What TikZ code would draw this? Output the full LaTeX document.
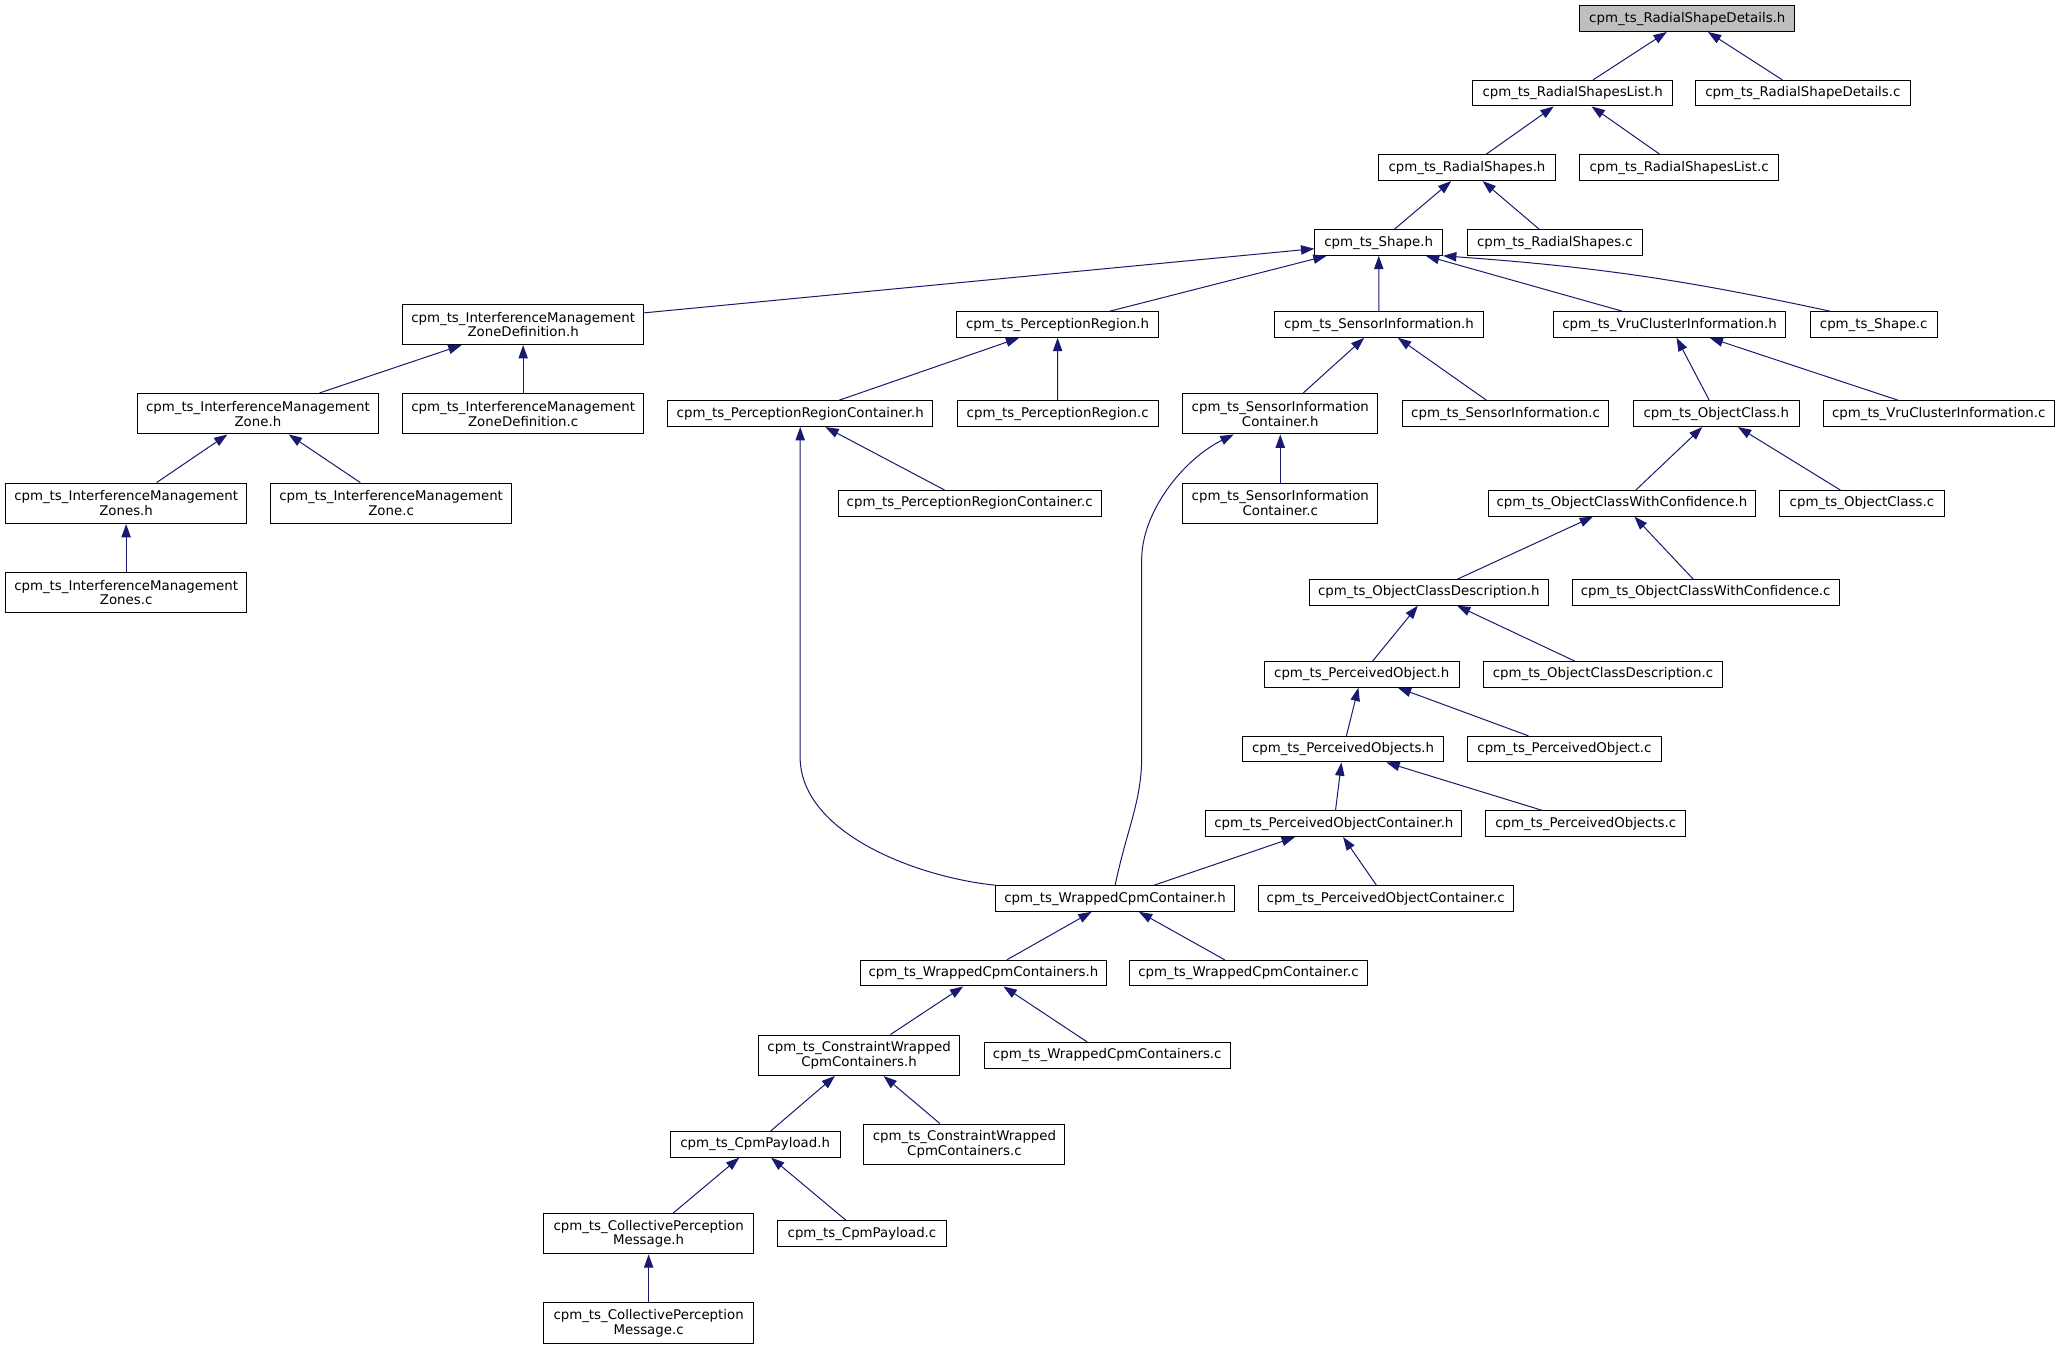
\documentclass[tikz,border=0pt]{standalone}
\usepackage{fontspec}
\setmainfont{DejaVu Sans}
\usetikzlibrary{arrows.meta}
\definecolor{edgeblue}{RGB}{25,25,112}
\definecolor{selgray}{RGB}{191,191,191}
\tikzset{
  file/.style={draw=black, fill=white, line width=0.75pt, inner sep=1pt,
    minimum height=19.5*0.98535pt, align=center, font=\fontsize{10}{11}\selectfont},
  tall/.style={minimum height=30.8*0.98535pt},
  wd/.style={minimum width=#1*0.98535pt},
  dep/.style={edgeblue, line width=0.75pt, -{Triangle[length=10pt, width=7pt]}},
}
\begin{document}
\begin{tikzpicture}[x=0.98535pt, y=-0.98535pt]
    \useasboundingbox[fill=white] (0,0) rectangle (1568,1027);
    % header files and their sources
    \node[file, wd=163.4, fill=selgray] (rsdh) at (1284.3,14.2) {cpm\_ts\_RadialShapeDetails.h};
    \node[file, wd=151.7] (rslh) at (1197,70.9) {cpm\_ts\_RadialShapesList.h};
    \node[file, wd=163.4] (rsdc) at (1372.3,70.9) {cpm\_ts\_RadialShapeDetails.c};
    \node[file, wd=134.3] (rsh) at (1116.6,127.7) {cpm\_ts\_RadialShapes.h};
    \node[file, wd=151] (rslc) at (1278,127.7) {cpm\_ts\_RadialShapesList.c};
    \node[file, wd=97.2] (shapeh) at (1049.4,184.6) {cpm\_ts\_Shape.h};
    \node[file, wd=133.3] (rsc) at (1183.5,184.6) {cpm\_ts\_RadialShapes.c};
    \node[file, tall, wd=183.6] (imzdh) at (398.2,246.9) {cpm\_ts\_InterferenceManagement\\ZoneDefinition.h};
    \node[file, wd=154] (prh) at (805,247) {cpm\_ts\_PerceptionRegion.h};
    \node[file, wd=158.4] (sih) at (1049.6,247) {cpm\_ts\_SensorInformation.h};
    \node[file, wd=176.8] (vcih) at (1270.8,247) {cpm\_ts\_VruClusterInformation.h};
    \node[file, wd=96.5] (shapec) at (1426.2,247) {cpm\_ts\_Shape.c};
    \node[file, tall, wd=183.5] (imzh) at (196.3,314.9) {cpm\_ts\_InterferenceManagement\\Zone.h};
    \node[file, tall, wd=183.6] (imzdc) at (398.2,314.9) {cpm\_ts\_InterferenceManagement\\ZoneDefinition.c};
    \node[file, wd=201.4] (prch) at (609.1,314.9) {cpm\_ts\_PerceptionRegionContainer.h};
    \node[file, wd=153] (prc) at (805.1,314.9) {cpm\_ts\_PerceptionRegion.c};
    \node[file, tall, wd=148.6] (sich) at (974.5,314.9) {cpm\_ts\_SensorInformation\\Container.h};
    \node[file, wd=157] (sic) at (1146,314.9) {cpm\_ts\_SensorInformation.c};
    \node[file, wd=126] (och) at (1306.4,314.9) {cpm\_ts\_ObjectClass.h};
    \node[file, wd=175.8] (vcic) at (1475.7,314.9) {cpm\_ts\_VruClusterInformation.c};
    \node[file, tall, wd=183.9] (imzsh) at (96,383.1) {cpm\_ts\_InterferenceManagement\\Zones.h};
    \node[file, tall, wd=183.5] (imzc) at (297.7,383.1) {cpm\_ts\_InterferenceManagement\\Zone.c};
    \node[file, wd=199.9] (prcc) at (738.1,383.1) {cpm\_ts\_PerceptionRegionContainer.c};
    \node[file, tall, wd=148.6] (sicc) at (974.5,383.1) {cpm\_ts\_SensorInformation\\Container.c};
    \node[file, wd=203.2] (ocwch) at (1234.5,383.1) {cpm\_ts\_ObjectClassWithConfidence.h};
    \node[file, wd=125.3] (occ) at (1417.2,383.1) {cpm\_ts\_ObjectClass.c};
    \node[file, tall, wd=183.9] (imzsc) at (96,450.9) {cpm\_ts\_InterferenceManagement\\Zones.c};
    \node[file, wd=181.9] (ocdh) at (1087.5,450.9) {cpm\_ts\_ObjectClassDescription.h};
    \node[file, wd=203] (ocwcc) at (1298.3,450.9) {cpm\_ts\_ObjectClassWithConfidence.c};
    \node[file, wd=148.5] (poh) at (1036.5,513.3) {cpm\_ts\_PerceivedObject.h};
    \node[file, wd=181.8] (ocdc) at (1220.1,513.3) {cpm\_ts\_ObjectClassDescription.c};
    \node[file, wd=153.4] (posh) at (1022.3,570.2) {cpm\_ts\_PerceivedObjects.h};
    \node[file, wd=147.3] (poc) at (1190.8,570.2) {cpm\_ts\_PerceivedObject.c};
    \node[file, wd=195] (poch) at (1015.3,627) {cpm\_ts\_PerceivedObjectContainer.h};
    \node[file, wd=152.3] (posc) at (1207,627) {cpm\_ts\_PerceivedObjects.c};
    \node[file, wd=181.6] (wcch) at (848.8,683.9) {cpm\_ts\_WrappedCpmContainer.h};
    \node[file, wd=193.9] (pocc) at (1054.7,683.9) {cpm\_ts\_PerceivedObjectContainer.c};
    \node[file, wd=187.8] (wccsh) at (748.5,740.7) {cpm\_ts\_WrappedCpmContainers.h};
    \node[file, wd=180.8] (wccc) at (950.3,740.7) {cpm\_ts\_WrappedCpmContainer.c};
    \node[file, tall, wd=153.4] (cwch) at (653.9,803.2) {cpm\_ts\_ConstraintWrapped\\CpmContainers.h};
    \node[file, wd=186.9] (wccsc) at (842.8,803.2) {cpm\_ts\_WrappedCpmContainers.c};
    \node[file, wd=129.5] (cph) at (574.8,871) {cpm\_ts\_CpmPayload.h};
    \node[file, tall, wd=153] (cwcc) at (734.1,871) {cpm\_ts\_ConstraintWrapped\\CpmContainers.c};
    \node[file, tall, wd=160.2] (cpmh) at (493.7,939) {cpm\_ts\_CollectivePerception\\Message.h};
    \node[file, wd=128.2] (cpc) at (656.1,939) {cpm\_ts\_CpmPayload.c};
    \node[file, tall, wd=160.2] (cpmc) at (493.7,1007) {cpm\_ts\_CollectivePerception\\Message.c};
    % include edges, arrow on the included file
    \draw[dep] (rslh) -- (rsdh);
    \draw[dep] (rsdc) -- (rsdh);
    \draw[dep] (rsh) -- (rslh);
    \draw[dep] (rslc) -- (rslh);
    \draw[dep] (shapeh) -- (rsh);
    \draw[dep] (rsc) -- (rsh);
    \draw[dep] (imzdh) -- (shapeh);
    \draw[dep] (prh) -- (shapeh);
    \draw[dep] (sih) -- (shapeh);
    \draw[dep] (vcih) -- (shapeh);
    \draw[dep] (shapec.163) to[bend right=4] (shapeh.south east);
    \draw[dep] (imzh) -- (imzdh);
    \draw[dep] (imzdc) -- (imzdh);
    \draw[dep] (prch) -- (prh);
    \draw[dep] (prc) -- (prh);
    \draw[dep] (sich) -- (sih);
    \draw[dep] (sic) -- (sih);
    \draw[dep] (och) -- (vcih);
    \draw[dep] (vcic) -- (vcih);
    \draw[dep] (imzsh) -- (imzh);
    \draw[dep] (imzc) -- (imzh);
    \draw[dep] (prcc) -- (prch);
    \draw[dep] (wcch.north west) .. controls (700,668) and (609,635) .. (609,576) -- (prch.south);
    \draw[dep] (sicc) -- (sich);
    \draw[dep] (wcch.north) .. controls (858,630) and (869,610) .. (869,576) -- (869,426)
        .. controls (869,390) and (900,350) .. (sich.204);
    \draw[dep] (ocwch) -- (och);
    \draw[dep] (occ) -- (och);
    \draw[dep] (imzsc) -- (imzsh);
    \draw[dep] (ocdh) -- (ocwch);
    \draw[dep] (ocwcc) -- (ocwch);
    \draw[dep] (poh) -- (ocdh);
    \draw[dep] (ocdc) -- (ocdh);
    \draw[dep] (posh) -- (poh);
    \draw[dep] (poc) -- (poh);
    \draw[dep] (poch) -- (posh);
    \draw[dep] (posc) -- (posh);
    \draw[dep] (wcch) -- (poch);
    \draw[dep] (pocc) -- (poch);
    \draw[dep] (wccsh) -- (wcch);
    \draw[dep] (wccc) -- (wcch);
    \draw[dep] (cwch) -- (wccsh);
    \draw[dep] (wccsc) -- (wccsh);
    \draw[dep] (cph) -- (cwch);
    \draw[dep] (cwcc) -- (cwch);
    \draw[dep] (cpmh) -- (cph);
    \draw[dep] (cpc) -- (cph);
    \draw[dep] (cpmc) -- (cpmh);
\end{tikzpicture}
\end{document}
